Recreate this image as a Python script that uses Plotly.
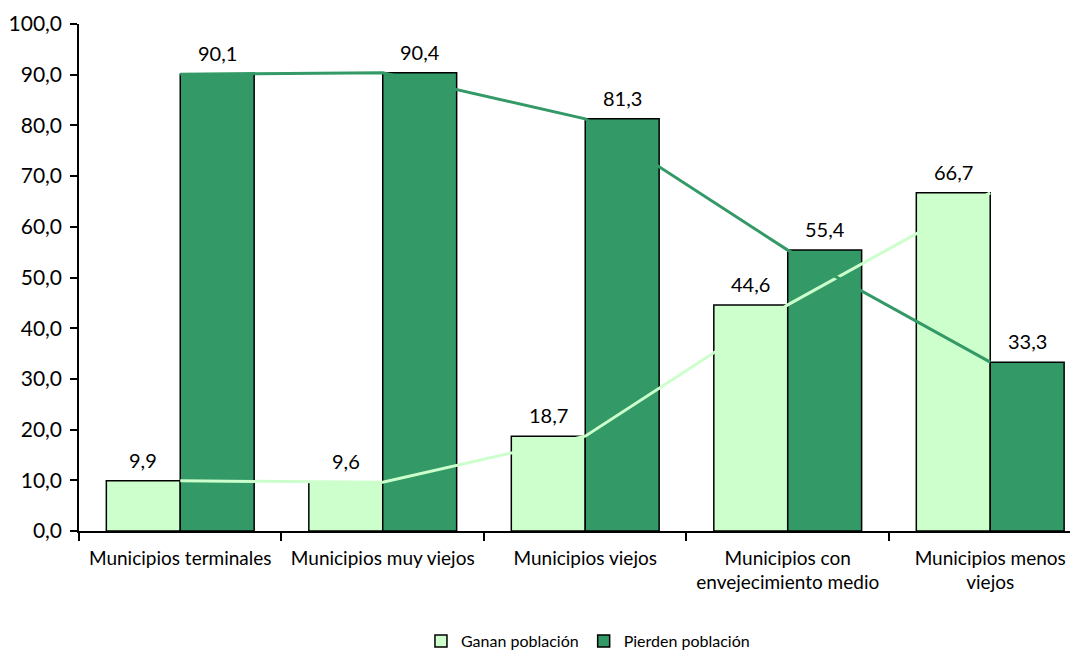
import plotly.graph_objects as go

categorias = ['Municipios terminales', 'Municipios muy viejos', 'Municipios viejos',
              'Municipios con<br>envejecimiento medio', 'Municipios menos<br>viejos']
ganan = [9.9, 9.6, 18.7, 44.6, 66.7]
pierden = [90.1, 90.4, 81.3, 55.4, 33.3]

claro = '#CCFFCC'
oscuro = '#339966'
fuente = 'Lato'

fig = go.Figure()
fig.add_trace(go.Bar(x=categorias, y=ganan, name='Ganan población',
                     marker=dict(color=claro, line=dict(color='black', width=1.5))))
fig.add_trace(go.Bar(x=categorias, y=pierden, name='Pierden población',
                     marker=dict(color=oscuro, line=dict(color='black', width=1.5))))
# lineas sobre las barras, en el centro de cada categoria
fig.add_trace(go.Scatter(x=categorias, y=ganan, mode='lines', showlegend=False,
                         line=dict(color=claro, width=3), hoverinfo='skip'))
fig.add_trace(go.Scatter(x=categorias, y=pierden, mode='lines', showlegend=False,
                         line=dict(color=oscuro, width=3), hoverinfo='skip'))

# etiquetas de datos
for serie, dx in ((ganan, -37), (pierden, 37)):
    for c, v in zip(categorias, serie):
        fig.add_annotation(x=c, y=v, text=f'{v:.1f}'.replace('.', ','),
                           showarrow=False, xshift=dx, yshift=21,
                           font=dict(family=fuente, size=20, color='black'))

fig.update_layout(
    width=1078, height=650,
    margin=dict(l=71, r=0, t=16, b=127),
    plot_bgcolor='white', paper_bgcolor='white',
    barmode='group', bargap=0.27, bargroupgap=0,
    separators=',.',
    font=dict(family=fuente, size=20, color='black'),
    legend=dict(orientation='h', xref='container', x=0.538, xanchor='center',
                yref='container', y=0.026, yanchor='middle',
                font=dict(size=16), itemwidth=30),
    showlegend=True,
)
fig.update_xaxes(range=[-0.5, 4.473], showline=True, linecolor='black', linewidth=1.5,
                 ticks='outside', tickson='boundaries', ticklen=8, tickcolor='black',
                 tickwidth=1.5, showgrid=False, tickfont=dict(size=19), tickangle=0,
                 ticklabelstandoff=9, automargin=False)
fig.update_yaxes(range=[0, 100], dtick=10, tickformat='.1f', showline=True,
                 linecolor='black', linewidth=1.5, ticks='outside', ticklen=7,
                 tickcolor='black', tickwidth=1.5, showgrid=False, zeroline=False,
                 tickfont=dict(size=21), ticklabelstandoff=4, automargin=False)

fig.write_html('out.html')
